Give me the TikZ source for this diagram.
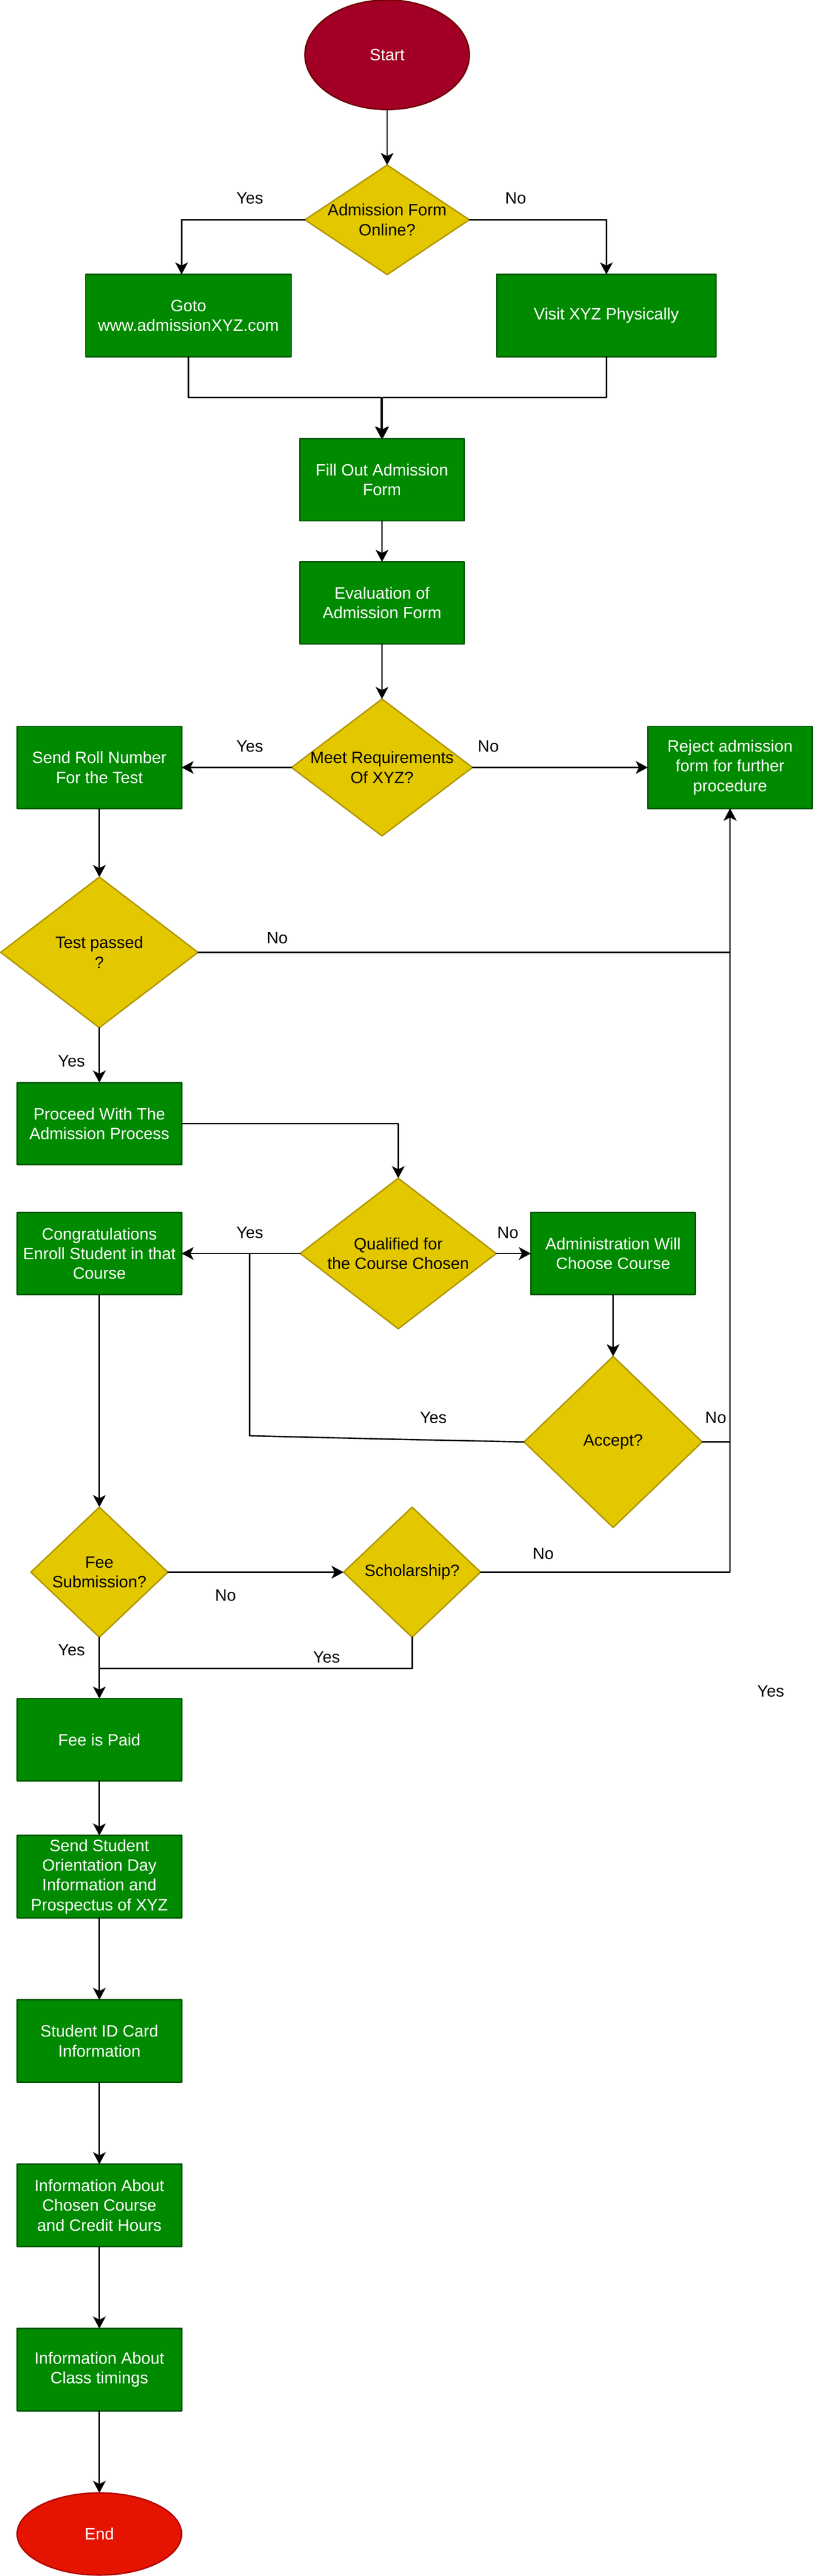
\documentclass[tikz,border=0pt]{standalone}
\usepackage{fontspec}
\setmainfont{Liberation Sans}
\usetikzlibrary{arrows.meta}
\usetikzlibrary{shapes.geometric}
\definecolor{startred}{HTML}{A20025}
\definecolor{startline}{HTML}{6F0000}
\definecolor{endred}{HTML}{E51400}
\definecolor{endline}{HTML}{B20000}
\definecolor{boxgreen}{HTML}{008A00}
\definecolor{boxline}{HTML}{005700}
\definecolor{quesyellow}{HTML}{E3C800}
\definecolor{quesline}{HTML}{B09500}

\begin{document}
\begin{tikzpicture}[line cap=round,line join=round,>={Stealth[length=8.8pt,width=9.3pt,inset=2.3pt]},x=1pt,y=-1pt,
  every node/.style={font=\fontsize{12}{14.4}\selectfont,outer sep=0pt},
  every path/.style={line width=1pt},
  oval/.style={ellipse,draw=#1line,fill=#1red,text=white,minimum width=120pt,minimum height=60pt},
  box/.style={draw=boxline,fill=boxgreen,text=white,align=center,minimum width=120pt,minimum height=60pt,inner sep=1pt},
  ques/.style={diamond,draw=quesline,fill=quesyellow,inner sep=0pt},
  qtext/.style={align=center,inner sep=0pt},
  lbl/.style={inner sep=0pt}]
        \useasboundingbox (0,0) rectangle (593,1881);
        % start and first question
        \node[oval=start,minimum height=80pt] (start) at (282.5,40) {Start};
        \node[ques,minimum width=120pt,minimum height=80pt] (online) at (282.5,160.5) {};
        \node[qtext] (onlinetxt) at (online) {Admission Form\\Online?};
        \node[box,minimum width=150pt] (goto) at (137.5,230.4) {Goto\\www.admissionXYZ.com};
        \node[box,minimum width=160pt] (visit) at (442.5,230.4) {Visit XYZ Physically};
        \node[box] (fill) at (278.75,350.3) {Fill Out Admission\\Form};
        \node[box] (eval) at (278.75,440.3) {Evaluation of\\Admission Form};
        % requirements
        \node[ques,minimum width=132pt,minimum height=100pt] (meet) at (278.75,560.4) {};
        \node[qtext] (meettxt) at (meet) {Meet Requirements\\Of XYZ?};
        \node[box] (roll) at (72.5,560.4) {Send Roll Number\\For the Test};
        \node[box] (reject) at (532.75,560.4) {Reject admission\\form for further\\procedure};
        \node[ques,minimum width=144pt,minimum height=110pt] (test) at (72.5,695.4) {};
        \node[qtext] (testtxt) at (test) {Test passed\\?};
        \node[box] (proceed) at (72.5,820.5) {Proceed With The\\Admission Process};
        % course choice
        \node[ques,minimum width=143pt,minimum height=110pt] (qual) at (290.6,915.3) {};
        \node[qtext] (qualtxt) at (qual) {Qualified for\\the Course Chosen};
        \node[box] (congrats) at (72.5,915.3) {Congratulations\\Enroll Student in that\\Course};
        \node[box] (admin) at (447.4,915.3) {Administration Will\\Choose Course};
        \node[ques,minimum width=130pt,minimum height=125pt] (accept) at (447.4,1052.9) {};
        \node[qtext] (accepttxt) at (accept) {Accept?};
        % fees
        \node[ques,minimum width=100pt,minimum height=95pt] (fee) at (72.5,1148) {};
        \node[qtext] (feetxt) at (fee) {Fee\\Submission?};
        \node[ques,minimum width=100pt,minimum height=95pt] (schol) at (300.7,1148) {};
        \node[qtext] (scholtxt) at (schol) {Scholarship?};
        \node[box] (paid) at (72.5,1270.3) {Fee is Paid};
        \node[box] (orient) at (72.5,1370.3) {Send Student\\Orientation Day\\Information and\\Prospectus of XYZ};
        \node[box] (idcard) at (72.5,1490.3) {Student ID Card\\Information};
        \node[box] (credit) at (72.5,1610.3) {Information About\\Chosen Course\\and Credit Hours};
        \node[box] (timing) at (72.5,1730.3) {Information About\\Class timings};
        \node[oval=end] (end) at (72.5,1850.3) {End};
        % labels
        \node[lbl] (onlineyes) at (182.3,144.8) {Yes};
        \node[lbl] (onlineno) at (376.3,144.8) {No};
        \node[lbl] (meetyes) at (182.3,545) {Yes};
        \node[lbl] (meetno) at (356.3,545) {No};
        \node[lbl] (testno) at (202.3,685) {No};
        \node[lbl] (testyes) at (52.2,774.8) {Yes};
        \node[lbl] (qualyes) at (182.3,900) {Yes};
        \node[lbl] (qualno) at (370.6,900) {No};
        \node[lbl] (acceptyes) at (316.2,1035) {Yes};
        \node[lbl] (acceptno) at (522.3,1035) {No};
        \node[lbl] (feeno) at (164.6,1165) {No};
        \node[lbl] (scholno) at (396.4,1134.6) {No};
        \node[lbl] (scholyes) at (238.3,1210) {Yes};
        \node[lbl] (feeyes) at (52.2,1204.8) {Yes};
        \node[lbl] (extrayes) at (562.4,1235) {Yes};
        % helper points
        \coordinate (joinl) at (278.3,290.2);
        \coordinate (joinr) at (279.2,290.2);
        \coordinate (acc1) at (282.1,1050.8);
        \coordinate (acc2) at (182.2,1048.4);
        \coordinate (acc3) at (182.2,915.3);
        \coordinate (accno) at (532.5,1052.9);
        \coordinate (feejoin) at (72.5,1218.3);
        % connectors
        \draw[->] (start) -- (online);
        \draw[->] (online.west) -| ([xshift=-5pt]goto.north);
        \draw[->] (online.east) -| (visit.north);
        \draw[->] (goto.south) |- (joinl) -- (joinl |- fill.north);
        \draw[->] (visit.south) |- (joinr) -- (joinr |- fill.north);
        \draw[->] (fill) -- (eval);
        \draw[->] (eval) -- (meet);
        \draw[->] (meet.west) -- (roll.east);
        \draw[->] (meet.east) -- (reject.west);
        \draw[->] (roll) -- (test);
        \draw[->] (test.east) -| (reject.south);
        \draw[->] (test) -- (proceed);
        \draw[->] (proceed.east) -| (qual.north);
        \draw[->] (qual.west) -- (congrats.east);
        \draw[->] (qual.east) -- (admin.west);
        \draw[->] (admin) -- (accept);
        \draw (accept.west) -- (acc1) -- (acc2) -- (acc3);
        \draw (accept.east) -- (accno);
        \draw[->] (congrats) -- (fee);
        \draw[->] (fee.east) -- (schol.west);
        \draw[->] (schol.east) -| (reject.south);
        \draw (schol.south) |- (feejoin);
        \draw[->] (fee) -- (paid);
        \foreach \a/\b in {paid/orient,orient/idcard,idcard/credit,credit/timing,timing/end}
        \draw[->] (\a) -- (\b);
      \end{tikzpicture}
\end{document}
